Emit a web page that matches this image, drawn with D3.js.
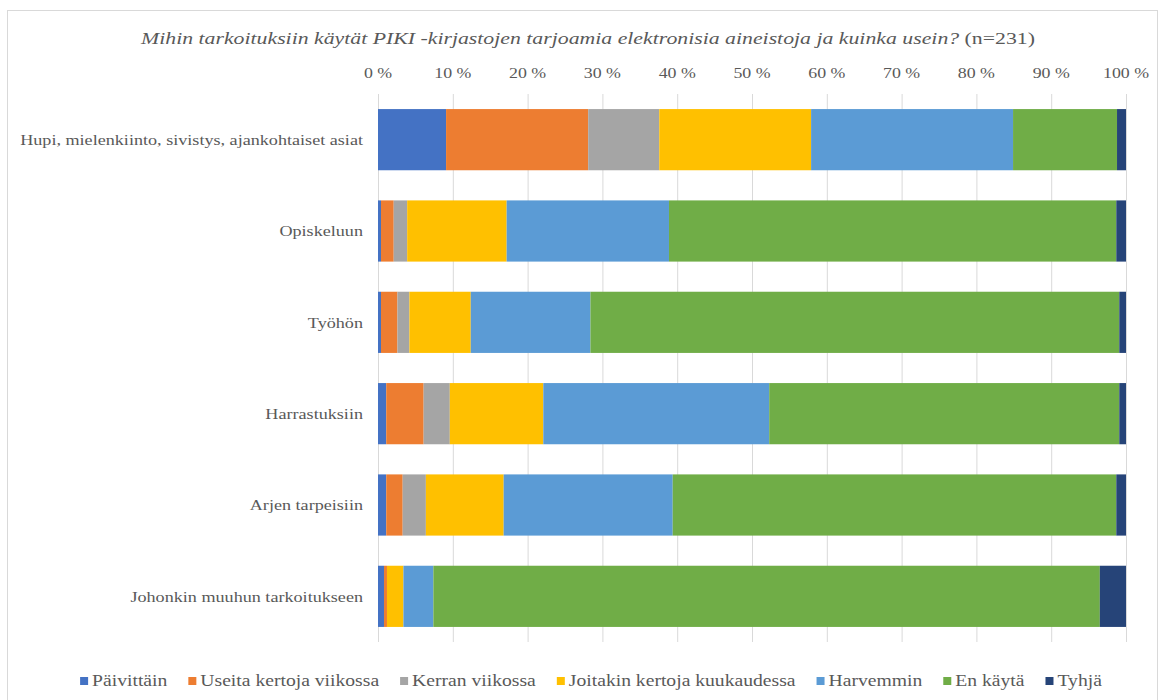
<!DOCTYPE html>
<html>
<head>
<meta charset="utf-8">
<script src="https://cdn.jsdelivr.net/npm/d3@7"></script>
<style>
  body { margin: 0; background: #fff; }
  text { font-family: "Liberation Serif", "Times New Roman", serif; fill: #595959; }
  .grid line { stroke: #d9d9d9; }
  .grid path { stroke: none; }
</style>
</head>
<body>
<div id="chart"></div>
<script>
// categories (top to bottom)
var categories = [
  "Hupi, mielenkiinto, sivistys, ajankohtaiset asiat",
  "Opiskeluun",
  "Työhön",
  "Harrastuksiin",
  "Arjen tarpeisiin",
  "Johonkin muuhun tarkoitukseen"
];

var seriesNames = ["Päivittäin", "Useita kertoja viikossa", "Kerran viikossa",
  "Joitakin kertoja kuukaudessa", "Harvemmin", "En käytä", "Tyhjä"];

var colors = ["#4472C4", "#ED7D31", "#A5A5A5", "#FFC000", "#5B9BD5", "#70AD47", "#264478"];

// percentages per series, one value per category
var paivittain   = [9.1, 0.4, 0.4, 1.1, 1.1, 0.8];
var useita       = [19.0, 1.7, 2.2, 5.0, 2.2, 0.4];
var kerran       = [9.5, 1.8, 1.6, 3.5, 3.1, 0.0];
var joitakin     = [20.3, 13.3, 8.2, 12.5, 10.4, 2.2];
var harvemmin    = [27.0, 21.7, 16.0, 30.2, 22.6, 4.0];
var enKayta      = [13.9, 59.8, 70.7, 46.8, 59.3, 89.1];
var tyhja        = [1.2, 1.3, 0.9, 0.9, 1.3, 3.5];

var tickLabels = ["0 %", "10 %", "20 %", "30 %", "40 %", "50 %", "60 %", "70 %", "80 %", "90 %", "100 %"];

var seriesValues = [paivittain, useita, kerran, joitakin, harvemmin, enKayta, tyhja];

var W = 1163, H = 700;
var plot = {left: 378, right: 1126, top: 94, bottom: 642};
var stretch = 1.19;  // the original text renders a bit wider than Liberation Serif

var svg = d3.select("#chart").append("svg")
    .attr("width", W)
    .attr("height", H);

// outer chart border
svg.append("rect")
    .attr("x", 7.5).attr("y", 10.5)
    .attr("width", 1150).attr("height", 700)
    .attr("fill", "none")
    .attr("stroke", "#d9d9d9");

var x = d3.scaleLinear().domain([0, 100]).range([plot.left, plot.right]);
var y = d3.scaleBand().domain(categories).range([plot.top, plot.bottom]).paddingInner(0.33).paddingOuter(0.165);

// build table for stacking
var table = categories.map(function(c, i) {
  var row = {cat: c};
  seriesNames.forEach(function(s, j) { row[s] = seriesValues[j][i]; });
  return row;
});
var stacked = d3.stack().keys(seriesNames)(table);

// gridlines
svg.append("g")
    .attr("class", "grid")
    .attr("transform", "translate(0," + plot.bottom + ")")
    .call(d3.axisBottom(x).tickValues(d3.range(0, 101, 10)).tickSize(-(plot.bottom - plot.top)).tickFormat(""));

// top axis labels
svg.append("g").selectAll("text")
    .data(tickLabels)
  .enter().append("text")
    .attr("transform", function(d, i) { return "translate(" + x(i * 10) + ",78) scale(" + stretch + ",1)"; })
    .attr("text-anchor", "middle")
    .style("font-size", "15px")
    .text(function(d) { return d; });

// bars
svg.append("g").selectAll("g")
    .data(stacked)
  .enter().append("g")
    .attr("fill", function(d, i) { return colors[i]; })
  .selectAll("rect")
    .data(function(d) { return d; })
  .enter().append("rect")
    .attr("x", function(d) { return x(d[0]); })
    .attr("width", function(d) { return Math.max(0, x(d[1]) - x(d[0])); })
    .attr("y", function(d) { return y(d.data.cat); })
    .attr("height", y.bandwidth());

// category labels
svg.append("g").selectAll("text")
    .data(categories)
  .enter().append("text")
    .attr("transform", function(d) { return "translate(363," + (y(d) + y.bandwidth() / 2) + ") scale(1.17,1)"; })
    .attr("dy", "0.35em")
    .attr("text-anchor", "end")
    .style("font-size", "15.5px")
    .text(function(d) { return d; });

// title
var title = svg.append("text")
    .attr("transform", "translate(588,44) scale(1.245,1)")
    .attr("text-anchor", "middle")
    .style("font-size", "17.5px");
title.append("tspan").style("font-style", "italic")
    .text("Mihin tarkoituksiin käytät PIKI -kirjastojen tarjoamia elektronisia aineistoja ja kuinka usein? ");
title.append("tspan").text("(n=231)");

// legend
var legend = svg.append("g");
var items = legend.selectAll("g")
    .data(seriesNames)
  .enter().append("g");
items.append("rect")
    .attr("width", 8).attr("height", 8)
    .attr("y", -9)
    .attr("fill", function(d, i) { return colors[i]; });
items.append("text")
    .attr("transform", "translate(12,0) scale(" + stretch + ",1)")
    .style("font-size", "16.5px")
    .text(function(d) { return d; });

var pos = 0;
items.each(function() {
  var w = d3.select(this).select("text").node().getComputedTextLength() * stretch + 12;
  d3.select(this).attr("transform", "translate(" + pos + ",0)");
  pos += w + 21;
});
pos -= 21;
legend.attr("transform", "translate(" + (591 - pos / 2) + ",686)");
</script>
</body>
</html>
